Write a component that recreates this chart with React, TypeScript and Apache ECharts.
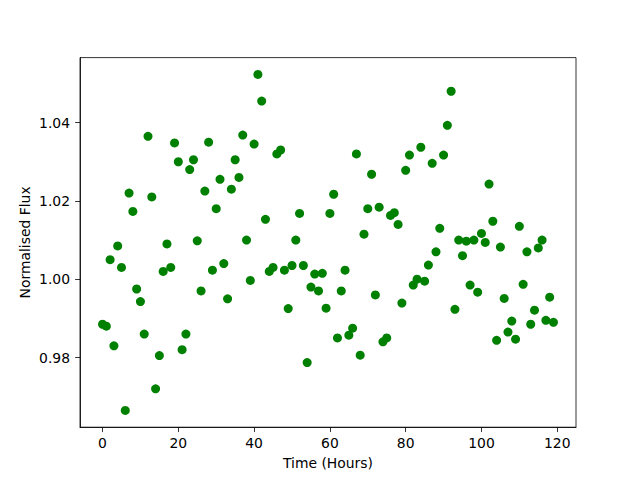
import React, { useEffect, useRef } from "react";
import * as echarts from "echarts";

const hours: number[] = Array.from({ length: 120 }, (_, i) => i);

const flux: number[] = [
  0.9885, 0.988, 1.005, 0.983, 1.0085, 1.003, 0.9665, 1.022, 1.0173, 0.9975,
  0.9943, 0.986, 1.0365, 1.021, 0.972, 0.9805, 1.002, 1.009, 1.003, 1.0348,
  1.03, 0.982, 0.986, 1.028, 1.0305, 1.0098, 0.997, 1.0225, 1.035, 1.0023,
  1.018, 1.0255, 1.004, 0.995, 1.023, 1.0305, 1.026, 1.0368, 1.01, 0.9997,
  1.0345, 1.0523, 1.0455, 1.0153, 1.002, 1.003, 1.032, 1.033, 1.0023, 0.9925,
  1.0035, 1.01, 1.0168, 1.0035, 0.9787, 0.998, 1.0013, 0.997, 1.0015, 0.9926,
  1.0168, 1.0217, 0.985, 0.997, 1.0023, 0.9857, 0.9875, 1.032, 0.9806, 1.0115,
  1.018, 1.0268, 0.996, 1.0184, 0.984, 0.985, 1.0163, 1.017, 1.014, 0.9939,
  1.0278, 1.0317, 0.9985, 1.0, 1.0337, 0.9995, 1.0036, 1.0296, 1.007, 1.013,
  1.0317, 1.0393, 1.048, 0.9923, 1.01, 1.006, 1.0097, 0.9985, 1.01, 0.9967,
  1.0117, 1.0094, 1.0243, 1.0148, 0.9844, 1.0082, 0.9951, 0.9865, 0.9893, 0.9847,
  1.0135, 0.9987, 1.007, 0.9885, 0.9921, 1.008, 1.01, 0.9895, 0.9954, 0.989,
];

const xTicks: number[] = [0, 20, 40, 60, 80, 100, 120];
const yTicks: number[] = [0.98, 1.0, 1.02, 1.04];

const FONT = "DejaVu Sans";

export default function App() {
  const ref = useRef<HTMLDivElement>(null);

  useEffect(() => {
    if (!ref.current) return;
    const chart = echarts.init(ref.current, undefined, { renderer: "svg" });

    const xMinD = Math.min(...hours);
    const xMaxD = Math.max(...hours);
    const xPad = (xMaxD - xMinD) * 0.05;
    const yMinD = Math.min(...flux);
    const yMaxD = Math.max(...flux);
    const yPad = (yMaxD - yMinD) * 0.05;

    const data = hours.map((h, i) => [h, flux[i]]);

    chart.setOption({
      animation: false,
      backgroundColor: "#ffffff",
      textStyle: { fontFamily: FONT },
      grid: {
        left: 80,
        right: 64,
        top: 57.6,
        bottom: 52.8,
        show: true,
        borderColor: "#000000",
        borderWidth: 0.8,
        backgroundColor: "transparent",
      },
      xAxis: {
        type: "value",
        min: xMinD - xPad,
        max: xMaxD + xPad,
        name: "Time (Hours)",
        nameLocation: "middle",
        nameGap: 28.5,
        nameMoveOverlap: false,
        nameTextStyle: { fontFamily: FONT, fontSize: 13.9, color: "#000" },
        axisLine: { show: true, onZero: false, lineStyle: { color: "#000", width: 0.8 } },
        axisTick: {
          show: true,
          length: 4.86,
          inside: false,
          customValues: xTicks,
          lineStyle: { color: "#000", width: 0.8 },
        },
        axisLabel: {
          show: true,
          margin: 9,
          customValues: xTicks,
          fontFamily: FONT,
          fontSize: 13.9,
          color: "#000",
          formatter: (v: number) => String(v),
        },
        splitLine: { show: false },
      },
      yAxis: {
        type: "value",
        min: yMinD - yPad,
        max: yMaxD + yPad,
        name: "Normalised Flux",
        nameLocation: "middle",
        nameGap: 48,
        nameMoveOverlap: false,
        nameTextStyle: { fontFamily: FONT, fontSize: 13.9, color: "#000" },
        axisLine: { show: true, onZero: false, lineStyle: { color: "#000", width: 0.8 } },
        axisTick: {
          show: true,
          length: 4.86,
          inside: false,
          customValues: yTicks,
          lineStyle: { color: "#000", width: 0.8 },
        },
        axisLabel: {
          show: true,
          margin: 10,
          customValues: yTicks,
          fontFamily: FONT,
          fontSize: 13.9,
          color: "#000",
          formatter: (v: number) => v.toFixed(2),
        },
        splitLine: { show: false },
      },
      series: [
        {
          type: "scatter",
          data,
          symbol: "circle",
          symbolSize: 9,
          itemStyle: { color: "#008000", opacity: 1 },
          emphasis: { disabled: true },
        },
      ],
    });

    return () => {
      chart.dispose();
    };
  }, []);

  return (
    <div
      ref={ref}
      style={{ position: "fixed", left: 0, top: 0, width: 640, height: 480 }}
    />
  );
}
